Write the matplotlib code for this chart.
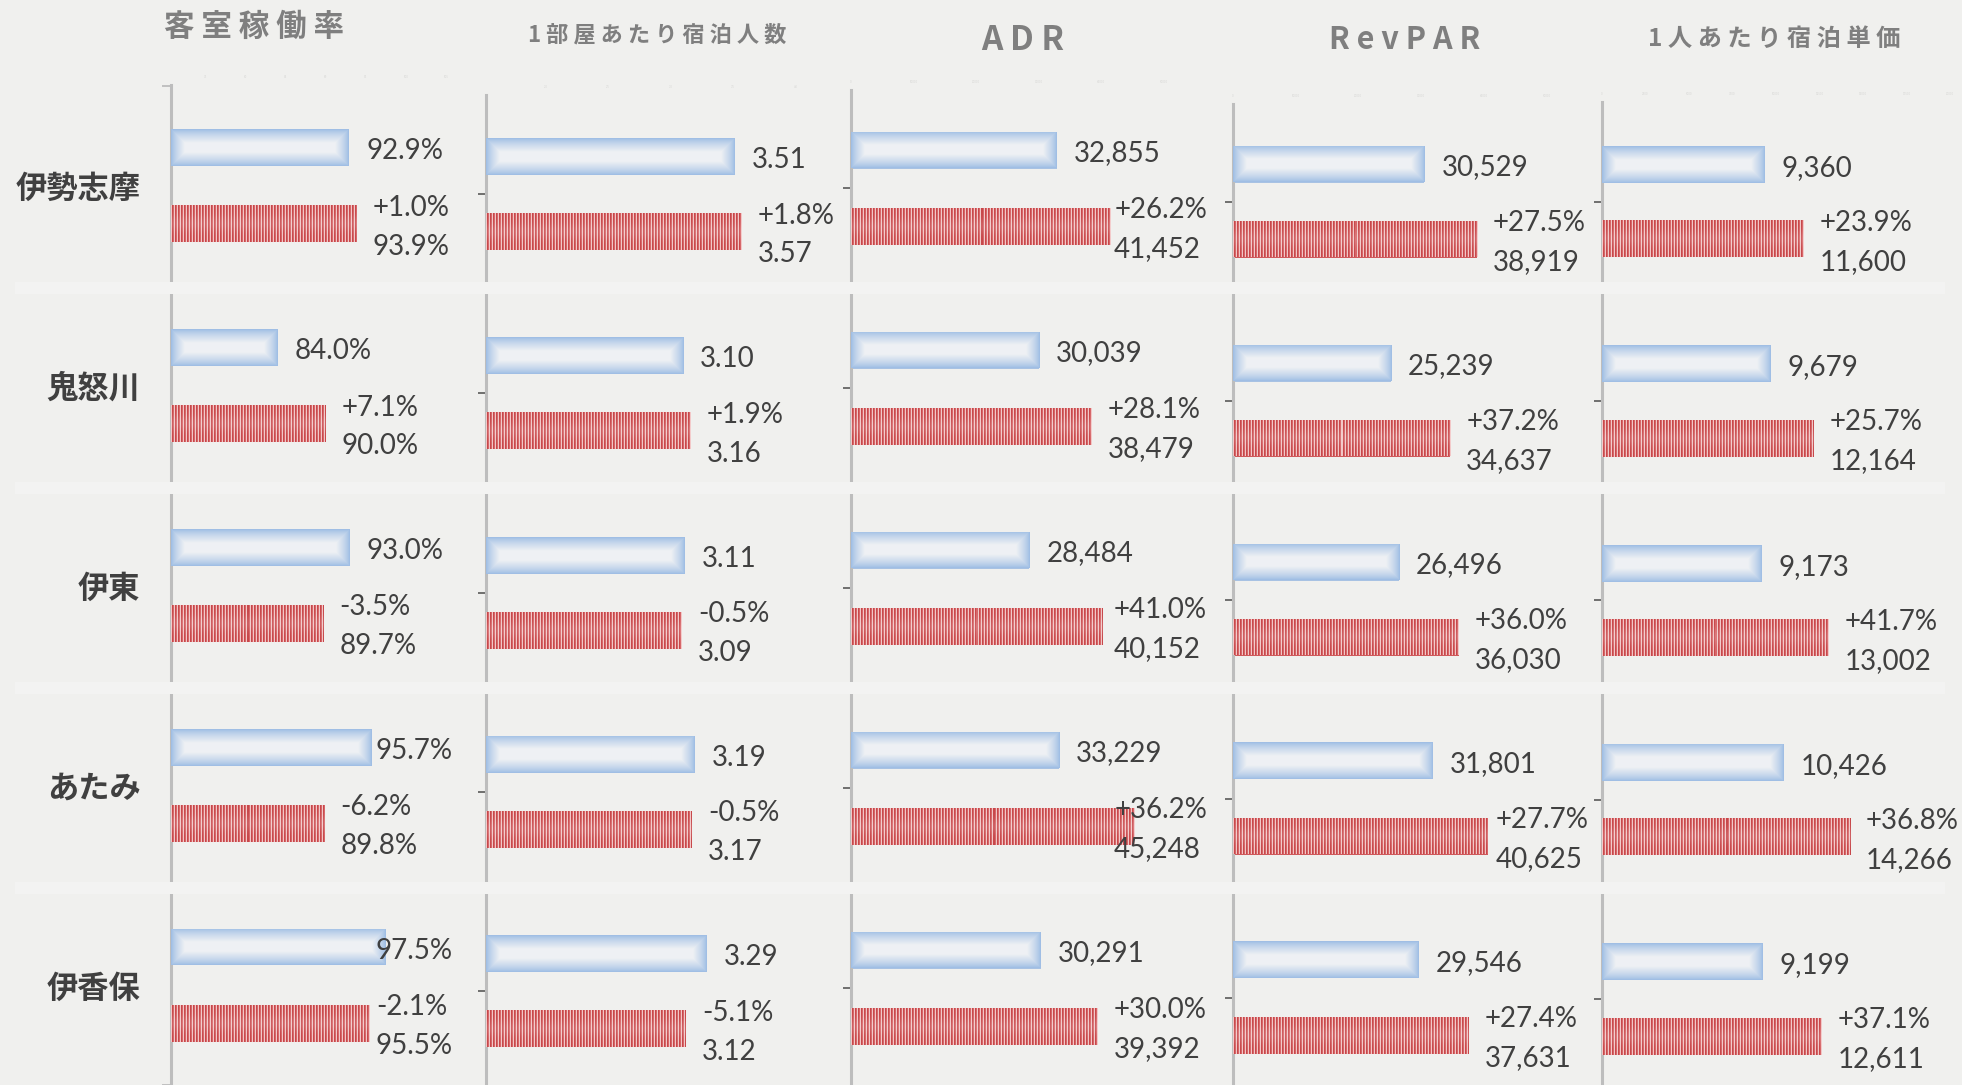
import numpy as np
import matplotlib.pyplot as plt
from matplotlib.patches import Rectangle

plt.rcParams['font.family'] = ['Lato', 'Noto Sans CJK JP', 'DejaVu Sans']

# データ
areas = ["伊勢志摩", "鬼怒川", "伊東", "あたみ", "伊香保"]
titles = ["客 室 稼 働 率", "1 部 屋 あ た り 宿 泊 人 数", "A D R", "R e v P A R",
          "1 人 あ た り 宿 泊 単 価"]

occ_prev = [92.9, 84.0, 93.0, 95.7, 97.5]
occ_now = [93.9, 90.0, 89.7, 89.8, 95.5]
occ_chg = ["+1.0%", "+7.1%", "-3.5%", "-6.2%", "-2.1%"]

ppr_prev = [3.51, 3.10, 3.11, 3.19, 3.29]
ppr_now = [3.57, 3.16, 3.09, 3.17, 3.12]
ppr_chg = ["+1.8%", "+1.9%", "-0.5%", "-0.5%", "-5.1%"]

adr_prev = [32855, 30039, 28484, 33229, 30291]
adr_now = [41452, 38479, 40152, 45248, 39392]
adr_chg = ["+26.2%", "+28.1%", "+41.0%", "+36.2%", "+30.0%"]

rev_prev = [30529, 25239, 26496, 31801, 29546]
rev_now = [38919, 34637, 36030, 40625, 37631]
rev_chg = ["+27.5%", "+37.2%", "+36.0%", "+27.7%", "+27.4%"]

upp_prev = [9360, 9679, 9173, 10426, 9199]
upp_now = [11600, 12164, 13002, 14266, 12611]
upp_chg = ["+23.9%", "+25.7%", "+41.7%", "+36.8%", "+37.1%"]

pct = lambda v: f"{v:.1f}%"
two = lambda v: f"{v:.2f}"
yen = lambda v: f"{v:,.0f}"

series = [
    (occ_prev, occ_now, occ_chg, pct),
    (ppr_prev, ppr_now, ppr_chg, two),
    (adr_prev, adr_now, adr_chg, yen),
    (rev_prev, rev_now, rev_chg, yen),
    (upp_prev, upp_now, upp_chg, yen),
]

# レイアウト (ピクセル)
W, H = 1962, 1085
panels = [
    dict(x=171, r=453, top=85, b1=148, r1=224.5, pitch=201, lo=70.65, scale=8.0),
    dict(x=486, r=845, top=95, b1=156.5, r1=231.5, pitch=199.3, lo=1.522, scale=125.0),
    dict(x=851, r=1207, top=90, b1=150, r1=226.5, pitch=200, lo=0, scale=0.00626),
    dict(x=1233, r=1589, top=104, b1=164, r1=239, pitch=199, lo=0, scale=0.00627),
    dict(x=1602, r=1959, top=102, b1=164.5, r1=239, pitch=199.3, lo=0, scale=0.01741),
]
title_pos = [(254, 27, 22), (657, 35, 16), (1023, 40, 24), (1405, 40, 22), (1774, 39, 17.5)]

txt_col = '#404040'
axis_col = '#bdbdbd'
bg_col = '#f0f0ee'


def blue_img(w, h):
    xs = np.arange(w) + 0.5
    ys = np.arange(h) + 0.5
    d = np.minimum(np.minimum(xs, w - xs)[None, :], np.minimum(ys, h - ys)[:, None])
    t = np.clip(d / 14.0, 0, 1) ** 0.75
    edge = np.array([0.60, 0.73, 0.89])
    inner = np.array([0.935, 0.943, 0.957])
    return edge * (1 - t)[..., None] + inner * t[..., None]


def red_img(w, h):
    ph = np.arange(w) % 3
    red = np.array([0.78, 0.28, 0.29])
    mid = np.array([0.84, 0.40, 0.41])
    light = np.array([0.95, 0.78, 0.78])
    row = np.where(ph[:, None] == 0, light, np.where(ph[:, None] == 1, red, mid))
    ys = (np.arange(h) + 0.5) / h
    k = 0.13 * np.exp(-((ys - 0.5) / 0.22) ** 2)
    img = row[None, :, :] * (1 - k)[:, None, None] + k[:, None, None]
    return img


fig = plt.figure(figsize=(W / 100, H / 100), dpi=100, facecolor=bg_col)

labels = []
for n, (p, (prev, now, chg, fmt)) in enumerate(zip(panels, series)):
    ax = fig.add_axes([p['x'] / W, 0, (p['r'] - p['x']) / W, (H - p['top']) / H])
    ax.set_facecolor('none')
    xlim = (p['lo'], p['lo'] + (p['r'] - p['x']) / p['scale'])
    mid0 = (p['b1'] + p['r1']) / 2
    ylim = ((H - mid0) / p['pitch'], (p['top'] - mid0) / p['pitch'])
    d = (p['r1'] - p['b1']) / 2 / p['pitch']
    bh = 37 / p['pitch']
    idx = np.arange(len(areas))

    b_prev = ax.barh(idx - d, np.array(prev) - p['lo'], left=p['lo'], height=bh,
                     color='#a8c2e3', zorder=2)
    b_now = ax.barh(idx + d, np.array(now) - p['lo'], left=p['lo'], height=bh,
                    color='#cf5a5c', zorder=2)
    for bars, maker in ((b_prev, blue_img), (b_now, red_img)):
        for bar in bars:
            x0, w = bar.get_x(), bar.get_width()
            y0, h = bar.get_y(), bar.get_height()
            wpx = max(int(round(w * p['scale'])), 2)
            im = ax.imshow(maker(wpx, 37), extent=(x0, x0 + w, y0 + h, y0),
                           aspect='auto', interpolation='nearest', zorder=3)
            im.set_clip_path(bar)
    ax.set_xlim(*xlim)
    ax.set_ylim(*ylim)

    # データラベル
    for i in range(len(areas)):
        t = ax.text(prev[i] + 17 / p['scale'], i - d + 3.5 / p['pitch'], fmt(prev[i]),
                    ha='left', va='center', fontsize=20, color=txt_col, zorder=5)
        labels.append((ax, p['r'], [t]))
        xr = now[i] + 16 / p['scale']
        yr = i + d + 3.5 / p['pitch']
        t1 = ax.text(xr, yr - 19.5 / p['pitch'], chg[i], ha='left', va='center',
                     fontsize=20, color=txt_col, zorder=5)
        t2 = ax.text(xr, yr + 19.5 / p['pitch'], fmt(now[i]), ha='left', va='center',
                     fontsize=20, color=txt_col, zorder=5)
        labels.append((ax, p['r'], [t1, t2]))

    for s in ('top', 'right', 'bottom'):
        ax.spines[s].set_visible(False)
    ax.spines['left'].set_color(axis_col)
    ax.spines['left'].set_linewidth(2.2)
    ax.tick_params(axis='x', bottom=False, labelbottom=False, top=False, labeltop=True,
                   labelsize=2, labelcolor='#d6d6d4', pad=1)
    if n == 0:
        ax.set_yticks(idx)
        ax.set_yticklabels(areas, fontsize=22.5, fontweight='bold', color=txt_col,
                           family=['Noto Sans CJK JP'])
        ax.tick_params(axis='y', which='major', length=0, pad=22)
        ax.set_yticks(np.arange(-0.5, len(areas)), minor=True)
        ax.tick_params(axis='y', which='minor', length=6.5, width=1.3, color=axis_col)
    else:
        ax.set_yticks(idx)
        ax.set_yticklabels([])
        ax.tick_params(axis='y', length=6, width=1.2, color='#595959')

# タイトル
for title, (tx, ty, fs) in zip(titles, title_pos):
    fig.text(tx / W, 1 - ty / H, title, ha='center', va='center', fontsize=fs,
             fontweight='bold', color='#7f7f7f', family=['Noto Sans CJK JP'])

# 行の区切り
for k in range(1, len(areas)):
    yc = 288.5 + (k - 1) * 199.7
    fig.add_artist(Rectangle((15 / W, 1 - (yc + 6) / H), 1930 / W, 12 / H,
                             transform=fig.transFigure, color='#f3f3f2', lw=0, zorder=10))

# ラベルがプロット領域からはみ出さないように寄せる
fig.canvas.draw()
rend = fig.canvas.get_renderer()
for ax, right, group in labels:
    ext = [t.get_window_extent(rend) for t in group]
    x0 = min(e.x0 for e in ext)
    x1 = max(e.x1 for e in ext)
    if x1 > right:
        shift = x1 - right
        new_x = ax.transData.inverted().transform((x0 - shift, 0))[0]
        for t in group:
            t.set_x(new_x)

plt.savefig("out.png", dpi=100, facecolor=fig.get_facecolor())
